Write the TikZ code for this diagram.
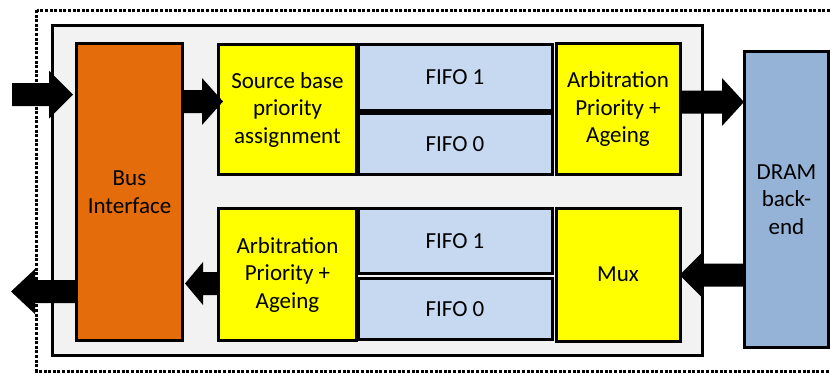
\documentclass[tikz,border=0pt]{standalone}
\usepackage{fontspec}
\setmainfont{Carlito}
\usetikzlibrary{calc}
\definecolor{busorange}{HTML}{E46C0A}
\definecolor{prioyellow}{HTML}{FFFF00}
\definecolor{fifoblue}{HTML}{C6D9F1}
\definecolor{dramblue}{HTML}{95B3D7}
\definecolor{panelgrey}{HTML}{F2F2F2}
% #1 start, #2 tip, #3 tip x-offset (pt), #4 head half width, #5 head length
\newcommand\harrow[5]{%
  \fill[black] let \p1=(#1), \p2=($(#2)+(#3pt,0)$), \n1={sign(\x2-\x1)} in
    (\x1,\y1+11.5pt) -- (\x2-\n1*#5pt,\y1+11.5pt) -- (\x2-\n1*#5pt,\y1+#4pt)
    -- (\x2,\y1) -- (\x2-\n1*#5pt,\y1-#4pt) -- (\x2-\n1*#5pt,\y1-11.5pt)
    -- (\x1,\y1-11.5pt) -- cycle;}
\tikzset{
  blk/.style={draw=black, line width=3pt, rectangle, inner sep=0pt,
    align=center, font=\fontsize{23}{27.5}\selectfont},
  panelbox/.style={draw=black, line width=3pt, fill=panelgrey, rectangle, inner sep=0pt},
  outerbox/.style={draw=black, line width=3pt, dash pattern=on 3pt off 1.6pt},
}
\begin{document}
\begin{tikzpicture}[x=1pt,y=-1pt]
\clip (0,0) rectangle (830,373);
\fill[white] (0,0) rectangle (830,373);
% outer dotted border
\draw[outerbox] (36.5,10) rectangle (845,371);
% grey panel
\node[panelbox, minimum width=650pt, minimum height=330pt] (panel) at (377.5,190.5) {};
% boxes
\node[blk, fill=busorange, minimum width=106pt, minimum height=297pt] (bus) at (129.5,192) {Bus\\Interface};
\node[blk, fill=prioyellow, minimum width=138pt, minimum height=130pt] (src) at (287.5,109.5) {Source base\\priority\\assignment};
\node[blk, fill=fifoblue, minimum width=194pt, minimum height=66pt] (fifoTa) at (455,77) {FIFO 1};
\node[blk, fill=fifoblue, minimum width=194pt, minimum height=61pt] (fifoTb) at (455,144) {FIFO 0};
\node[blk, fill=prioyellow, minimum width=124pt, minimum height=131pt] (arbT) at (618,109) {Arbitration\\Priority +\\Ageing};
\node[blk, fill=prioyellow, minimum width=138pt, minimum height=132pt] (arbB) at (287.5,274.5) {Arbitration\\Priority +\\Ageing};
\node[blk, fill=fifoblue, minimum width=194pt, minimum height=65pt] (fifoBa) at (455,241) {FIFO 1};
\node[blk, fill=fifoblue, minimum width=194pt, minimum height=61pt] (fifoBb) at (455,309) {FIFO 0};
\node[blk, fill=prioyellow, minimum width=124pt, minimum height=133pt] (mux) at (618,274.5) {Mux};
\node[blk, fill=dramblue, minimum width=84pt, minimum height=296pt] (dram) at (786.5,199.5) {DRAM\\back-\\end};
% arrow reference points
\coordinate (inL) at (12,94.5);
\coordinate (outL) at (11,291.5);
\coordinate (a2) at (0,101.5);
\coordinate (a3) at (0,102);
\coordinate (a4) at (0,275);
\coordinate (a5) at (0,283.5);
% arrows
\harrow{inL}{bus.west |- inL}{-2}{24}{24}
\harrow{bus.east |- a2}{src.west |- a2}{6}{23.5}{21}
\harrow{arbT.east |- a3}{dram.west |- a3}{1}{24}{22}
\harrow{dram.west |- a4}{mux.east |- a4}{-2}{23}{23}
\harrow{arbB.west |- a5}{bus.east |- a5}{1}{21.5}{18}
\harrow{bus.west |- outL}{outL}{0}{22.5}{24}
\end{tikzpicture}
\end{document}
